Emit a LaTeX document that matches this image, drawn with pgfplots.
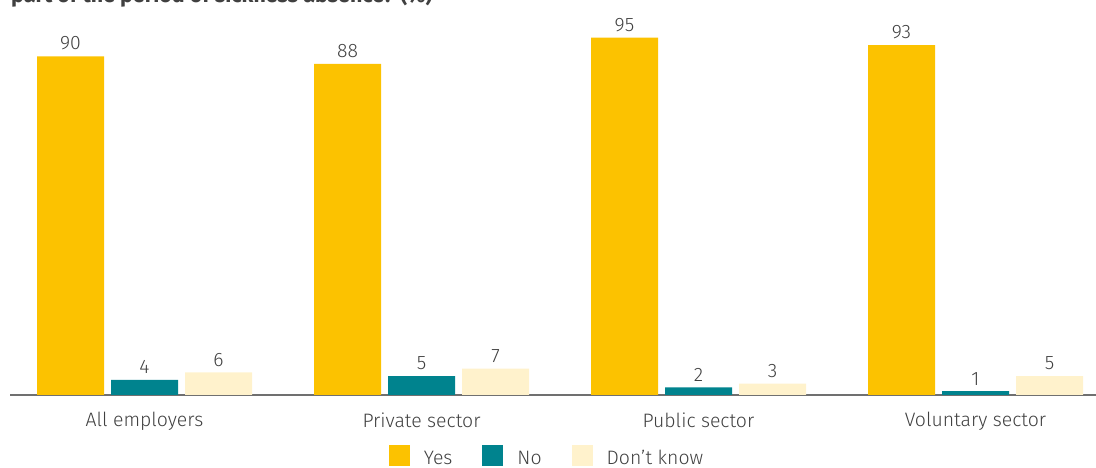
\documentclass[border=0pt]{standalone}
\usepackage{pgfplots}
\pgfplotsset{compat=1.18}
\usepackage{fontspec}
\setmainfont{Fira Sans Light}
\newfontfamily\tfont{Fira Sans}
\definecolor{cyes}{HTML}{FCC200}
\definecolor{cno}{HTML}{00838E}
\definecolor{cdk}{HTML}{FFF2CC}
\definecolor{ctxt}{HTML}{404040}
\definecolor{caxis}{HTML}{707070}
\begin{document}
\begin{tikzpicture}[x=1bp,y=1bp]
\useasboundingbox (0,0) rectangle (1096,468);
\clip (0,0) rectangle (1096,468);
\node[anchor=base west, font=\tfont\fontsize{21.5}{23}\selectfont\bfseries, text=ctxt, inner sep=0pt] at (11,465.5) {part of the period of sickness absence? (\%)};
\begin{axis}[
  at={(10bp,73bp)}, anchor=south west,
  scale only axis, width=1086bp, height=395bp,
  xmin=-0.4856, xmax=3.435, ymin=0, ymax=105,
  ybar=7bp, bar width=67bp,
  axis x line*=bottom, axis y line=none,
  x axis line style={caxis, line width=1.6bp, -},
  xtick=data, xticklabels={All employers, Private sector, Public sector, Voluntary sector},
  major tick length=0pt,
  xticklabel style={font=\fontsize{19.5}{21}\selectfont, text=ctxt, yshift=-14bp},
  nodes near coords,
  every node near coord/.append style={font=\fontsize{19.5}{21}\selectfont, text=ctxt, inner sep=0pt, yshift=6bp},
  /pgf/number format/assume math mode=true,
  legend columns=-1,
  legend style={draw=none, at={(0.4936,-0.154)}, anchor=center, font=\fontsize{19.5}{21}\selectfont, text=ctxt,
    /tikz/every even column/.append style={column sep=30bp},
    nodes={inner sep=0pt, anchor=west}},
  legend image code/.code={\fill[#1] (0bp,-8bp) rectangle (21bp,13bp);},
  legend cell align=left,
]
\addplot[fill=cyes, draw=none] coordinates {(0,90) (1,88) (2,95) (3,93)};
\addplot[fill=cno, draw=none] coordinates {(0,4) (1,5) (2,2) (3,1)};
\addplot[fill=cdk, draw=none] coordinates {(0,6) (1,7) (2,3) (3,5)};
\legend{\hspace{14bp}Yes, \hspace{14bp}No, \hspace{14bp}Don’t know}
\end{axis}
\end{tikzpicture}
\end{document}
